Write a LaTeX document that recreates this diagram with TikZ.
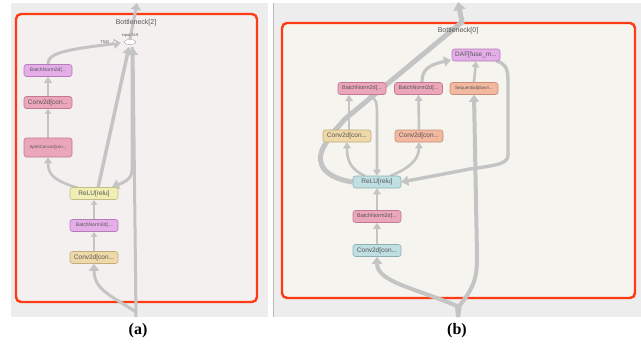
\documentclass[tikz,border=0pt]{standalone}
\usepackage{fontspec}
\setmainfont{Liberation Sans}
\newfontfamily\capfont{Liberation Serif}
\usetikzlibrary{arrows.meta,shapes.geometric}
\pgfdeclarelayer{bglayer}
\pgfdeclarelayer{edgelayer}
\pgfsetlayers{bglayer,edgelayer,main}
\definecolor{panelbg}{HTML}{EDEDED}
\definecolor{bga}{HTML}{F4F0EF}
\definecolor{bgb}{HTML}{F5F4EE}
\definecolor{redbox}{HTML}{FF3B14}
\definecolor{edgec}{HTML}{C4C4C4}
\definecolor{txt}{HTML}{555555}
\definecolor{purpf}{HTML}{E6AEE9}\definecolor{purpd}{HTML}{B57DB8}
\definecolor{pinkf}{HTML}{EBA6BA}\definecolor{pinkd}{HTML}{C27A8E}
\definecolor{yelf}{HTML}{F0EEB2}\definecolor{yeld}{HTML}{C2BE88}
\definecolor{tanf}{HTML}{EFD9A8}\definecolor{tand}{HTML}{C2AB7C}
\definecolor{salf}{HTML}{F2B8A0}\definecolor{sald}{HTML}{C88E76}
\definecolor{bluef}{HTML}{C0DFE2}\definecolor{blued}{HTML}{8EB0B4}
\tikzset{
  opnode/.style={rounded corners=2.5pt, line width=0.6pt, minimum width=48pt, minimum height=12pt,
     inner sep=1pt, text=txt, font=\fontsize{6.5}{7}\selectfont},
  purp/.style={opnode, fill=purpf, draw=purpd},
  pink/.style={opnode, fill=pinkf, draw=pinkd},
  yel/.style={opnode, fill=yelf, draw=yeld},
  tan/.style={opnode, fill=tanf, draw=tand},
  sal/.style={opnode, fill=salf, draw=sald},
  blu/.style={opnode, fill=bluef, draw=blued},
  small/.style={font=\fontsize{5}{6}\selectfont},
  tiny/.style={font=\fontsize{4.3}{5}\selectfont},
  thick edge/.style={draw=edgec, line width=4pt, -{Triangle[width=10pt,length=7pt]}},
  mid edge/.style={draw=edgec, line width=2.6pt, -{Triangle[width=7.5pt,length=6pt]}},
  thin edge/.style={draw=edgec, line width=1.6pt, -{Triangle[width=6pt,length=5pt]}},
  redframe/.style={draw=redbox, line width=2.4pt, rounded corners=5pt},
  title/.style={text=txt, font=\fontsize{7}{8}\selectfont},
  caption/.style={font=\capfont\bfseries\fontsize{16}{18}\selectfont}
}
\begin{document}
\begin{tikzpicture}[x=1pt,y=-1pt]
\useasboundingbox (0,0) rectangle (641,349);
\begin{pgfonlayer}{bglayer}
\fill[white] (0,0) rectangle (641,349);
\fill[panelbg] (11,3) rectangle (268,317);
\fill[panelbg] (273,3) rectangle (641,317);
\draw[draw=gray!55, line width=1.2pt] (273.5,3) -- (273.5,317);
\fill[bga] (16,14) rectangle (257,302);
\fill[bgb] (282,23) rectangle (635,298);
\draw[redframe] (16,14) rectangle (257,302);
\draw[redframe] (282,23) rectangle (635,298);
\end{pgfonlayer}

% ---------- panel (a) ----------
\node[purp, small] (a_bn1) at (48,70.5) {BatchNorm2d[...};
\node[pink] (a_conv1) at (48,102.5) {Conv2d[con...};
\node[pink, tiny, minimum height=19pt] (a_split) at (48,147.5) {SplAtConv2d[con...};
\node[yel] (a_relu) at (94,193.5) {ReLU[relu]};
\node[purp, small] (a_bn0) at (94,225.5) {BatchNorm2d[...};
\node[tan] (a_conv0) at (94,257.5) {Conv2d[con...};
\node[ellipse, draw=gray!60, fill=white, line width=0.5pt, minimum width=12pt, minimum height=5pt, inner sep=0pt] (a_add) at (130,42) {};
\node[draw=gray!60, fill=white, circle, inner sep=0pt, minimum size=3.5pt, line width=0.4pt] (a_t) at (115,42) {};
\node[text=txt, font=\fontsize{4}{5}\selectfont] (a_addl) at (130,35.5) {input.519};
\node[text=txt, font=\fontsize{4}{5}\selectfont, anchor=east] (a_tl) at (113,42) {T502};
\node[title] (ta) at (136,23) {Bottleneck[2]};
\node[caption] (ca) at (138,331) {(a)};
\coordinate (a_in) at (136,317);
\coordinate (a_out) at (137,3);

\begin{pgfonlayer}{edgelayer}
\draw[thick edge, line width=3pt] (a_in) -- (133,48);
\draw[thick edge, line width=3pt] (136,312) .. controls (112,296) and (94,290) .. (a_conv0.south);
\draw[thin edge, line width=1.2pt] (a_conv0.north) -- (a_bn0.south);
\draw[thin edge, line width=1.2pt] (a_bn0.north) -- (a_relu.south);
\draw[mid edge] (78,188) .. controls (56,181) and (48,176) .. (a_split.south);
\draw[thin edge, line width=1.2pt] (a_split.north) -- (a_conv1.south);
\draw[mid edge] (a_conv1.north) -- (a_bn1.south);
\draw[thick edge, line width=3pt] (a_bn1.north) .. controls (48,54) and (60,50) .. (121,43);
\draw[thick edge, line width=3.5pt] (98,188) -- (129,47);
\draw[thick edge, line width=3pt] (a_add.north) -- (a_out);
\draw[thick edge, line width=3pt] (132,47) -- (132,170) .. controls (132,180) and (122,183) .. (112,187);
\end{pgfonlayer}

% ---------- panel (b) ----------
\node[purp] (b_daf) at (476,55) {DAF[fuse\_m...};
\node[pink, font=\fontsize{5.5}{6}\selectfont] (b_bn1) at (362,88.5) {BatchNorm2d[...};
\node[pink, font=\fontsize{5.5}{6}\selectfont] (b_bn2) at (418.5,88.5) {BatchNorm2d[...};
\node[sal, font=\fontsize{4.6}{5}\selectfont] (b_seq) at (474,88.5) {Sequential[down...};
\node[tan] (b_conv1) at (347,136) {Conv2d[con...};
\node[sal] (b_conv2) at (419,136) {Conv2d[con...};
\node[blu] (b_relu) at (377,182) {ReLU[relu]};
\node[pink, font=\fontsize{5.5}{6}\selectfont] (b_bn0) at (377,216.5) {BatchNorm2d[...};
\node[blu] (b_conv0) at (377,250.5) {Conv2d[con...};
\node[title] (tb) at (458,31) {Bottleneck[0]};
\node[caption] (cb) at (457,331) {(b)};
\coordinate (b_in) at (458,317);
\coordinate (b_out) at (458,2);

\begin{pgfonlayer}{edgelayer}
\draw[thick edge] (b_in) -- (457,306) .. controls (415,288) and (377,282) .. (b_conv0.south);
\draw[thick edge] (b_in) -- (460,305) .. controls (476,285) and (477,275) .. (477,255) -- (b_seq.south);
\draw[mid edge] (b_conv0.north) -- (b_bn0.south);
\draw[mid edge] (b_bn0.north) -- (b_relu.south);
\draw[mid edge] (365,176) .. controls (350,169) and (347,160) .. (b_conv1.south);
\draw[mid edge] (390,176) .. controls (408,169) and (419,160) .. (b_conv2.south);
\draw[mid edge] (349,130) -- (349,95);
\draw[mid edge] (b_conv2.north) -- (b_bn2.south);
\draw[mid edge] (369,95) .. controls (377,98) and (377,104) .. (377,116) -- (b_relu.north);
\draw[thick edge, line width=3.2pt] (422,82) .. controls (422,70) and (428,65) .. (451,60);
\draw[mid edge] (b_seq.north) -- (b_daf.south);
\draw[thick edge, line width=3.4pt] (496,61) .. controls (505,63) and (508,68) .. (508,80) -- (508,155) .. controls (508,163) and (500,165) .. (470,169) -- (b_relu.east);
\draw[thick edge, line width=5pt, -{Triangle[width=12pt,length=8pt]}] (b_relu.west) .. controls (326,178) and (315,165) .. (323,148) .. controls (330,136) .. (345,119) -- (462,22) -- (b_out);
\end{pgfonlayer}
\end{tikzpicture}
\end{document}
